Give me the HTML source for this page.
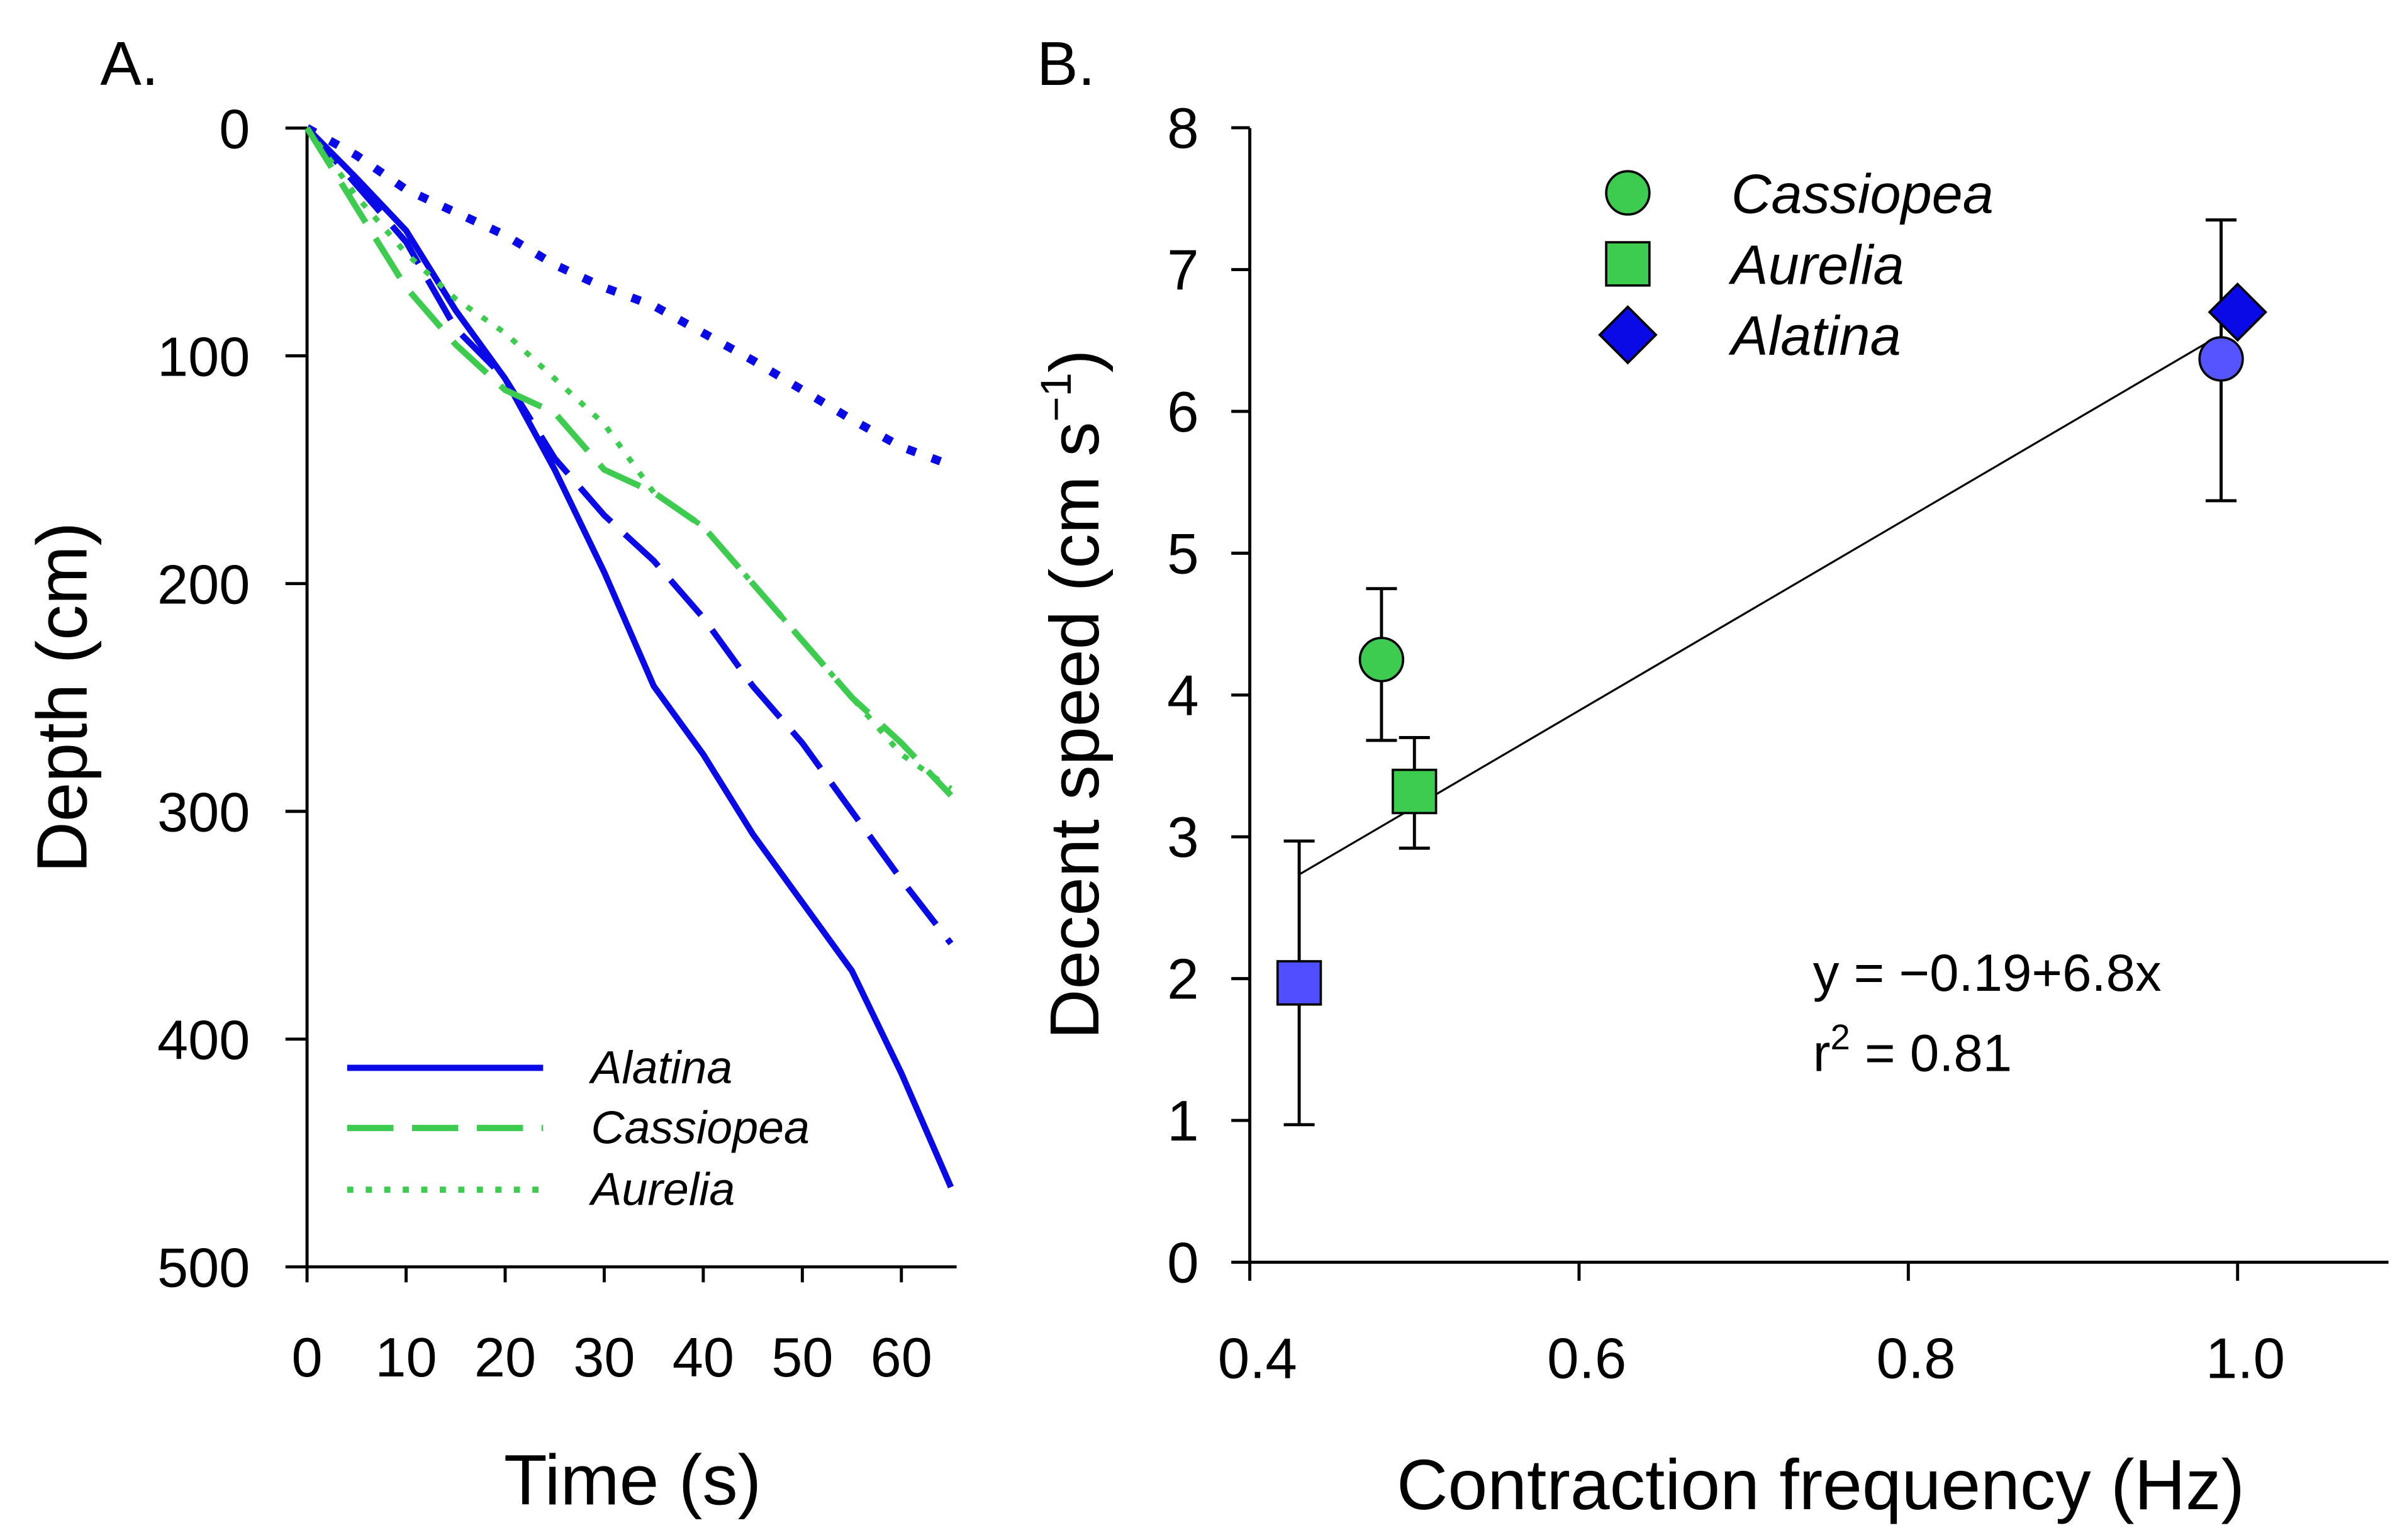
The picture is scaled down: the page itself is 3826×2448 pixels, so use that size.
<!DOCTYPE html>
<html><head><meta charset="utf-8"><style>
html,body{margin:0;padding:0;background:#fff;}
svg{display:block;}
text{font-family:"Liberation Sans",sans-serif;fill:#000;}
</style></head><body>
<svg id="fig" width="3826" height="2448" viewBox="0 0 1560 998" preserveAspectRatio="none">
<g id="pa"></g>
<g id="pb"></g>
</svg>
<script>
// Panel A data
const timeA = [0,5,10,15,20,25,30,35,40,45,50,55,60,65];
const alatinaSolid = [0,22,45,80,110,150,195,245,275,310,340,370,415,465];
const alatinaDashed = [0,25,50,88,110,145,170,190,215,245,270,300,330,358];
const alatinaDotted = [0,12,27,37,47,60,70,78,90,102,115,128,140,148];
const cassiopea = [0,35,70,95,115,125,150,160,175,200,225,250,270,293];
const aurelia = [0,30,55,75,90,110,130,160,175,200,225,250,275,290];
const xTicksA = [0,10,20,30,40,50,60];
const yTicksA = [0,100,200,300,400,500];
// Panel B data
const freqB = [0.43,0.48,0.50,0.99,1.00];
const speedB = [1.97,4.25,3.32,6.37,6.70];
const errLo = [0.97,3.68,2.92,5.37,null];
const errHi = [2.97,4.75,3.70,7.35,null];
const shapesB = ['square','circle','square','circle','diamond'];
const colorsB = ['#4f4fff','#3dcc4f','#3dcc4f','#5555ff','#0a0ae6'];
const xTicksB = [0.4,0.6,0.8,1.0];
const yTicksB = [0,1,2,3,4,5,6,7,8];
const fitInt = -0.19, fitSlope = 6.8;
const fitRange = [0.43,0.985];

const NS='http://www.w3.org/2000/svg';
function mk(parent,tag,attrs,txt){const e=document.createElementNS(NS,tag);for(const k in attrs)e.setAttribute(k,attrs[k]);if(txt!==undefined)e.textContent=txt;parent.appendChild(e);return e;}
const BLUE='#0a0ae6', GREEN='#3dcc4f';

// ---------- Panel A ----------
const pa=document.getElementById('pa');
const ax=t=>199+t*6.42, ay=d=>83+d*1.476;
let e;
e=mk(pa,'line',{x1:199,y1:83,x2:199,y2:821,stroke:'#000','stroke-width':2});


e=mk(pa,'line',{x1:199,y1:821,x2:620,y2:821,stroke:'#000','stroke-width':2});


yTicksA.forEach(v=>{
  mk(pa,'line',{x1:185,y1:ay(v),x2:199,y2:ay(v),stroke:'#000','stroke-width':2});
  e=mk(pa,'text',{x:162,y:ay(v)+13,'text-anchor':'end','font-size':36},String(v));
  
  
});
xTicksA.forEach(v=>{
  mk(pa,'line',{x1:ax(v),y1:821,x2:ax(v),y2:831,stroke:'#000','stroke-width':2});
  e=mk(pa,'text',{x:ax(v),y:892,'text-anchor':'middle','font-size':36},String(v));
  
  
});
e=mk(pa,'text',{x:65,y:55,'font-size':40},'A.');


e=mk(pa,'text',{x:410,y:975,'text-anchor':'middle','font-size':46},'Time (s)');


e=mk(pa,'text',{x:0,y:0,'text-anchor':'middle','font-size':46,transform:'translate(56,452) rotate(-90)'},'Depth (cm)');


function series(vals,stroke,dash,w,name){
  const pts=timeA.map((t,i)=>ax(t)+','+ay(vals[i])).join(' ');
  const p=mk(pa,'polyline',{points:pts,fill:'none',stroke:stroke,'stroke-width':w,'stroke-dasharray':dash});
  
  
}
series(alatinaSolid,BLUE,'none',4,'alatina-solid-line');
series(alatinaDashed,BLUE,'30 12',4,'alatina-dashed-line');
series(alatinaDotted,BLUE,'6 11',5.5,'alatina-dotted-line');
series(cassiopea,GREEN,'30 12',4,'cassiopea-line');
series(aurelia,GREEN,'4 8',3.5,'aurelia-line');
[['Alatina',BLUE,'none',692],['Cassiopea',GREEN,'30 12',731],['Aurelia',GREEN,'4 8',771]].forEach(l=>{
  mk(pa,'line',{x1:225,y1:l[3],x2:352,y2:l[3],stroke:l[1],'stroke-width':4,'stroke-dasharray':l[2]});
  e=mk(pa,'text',{x:383,y:l[3]+10,'font-size':30,'font-style':'italic'},l[0]);
  
  
});

// ---------- Panel B ----------
const pb=document.getElementById('pb');
const bx=f=>810+(f-0.4)*1067, by=s=>818-s*91.9;
e=mk(pb,'line',{x1:810,y1:83,x2:810,y2:818,stroke:'#000','stroke-width':2});


e=mk(pb,'line',{x1:810,y1:818,x2:1548,y2:818,stroke:'#000','stroke-width':2});


yTicksB.forEach(v=>{
  mk(pb,'line',{x1:798,y1:by(v),x2:810,y2:by(v),stroke:'#000','stroke-width':2});
  e=mk(pb,'text',{x:777,y:by(v)+13,'text-anchor':'end','font-size':37},String(v));
  
  
});
xTicksB.forEach(v=>{
  mk(pb,'line',{x1:bx(v),y1:818,x2:bx(v),y2:830,stroke:'#000','stroke-width':2});
  e=mk(pb,'text',{x:bx(v)+5,y:893,'text-anchor':'middle','font-size':37},v.toFixed(1));
  
  
});
e=mk(pb,'text',{x:672,y:55,'font-size':40},'B.');


e=mk(pb,'text',{x:1180,y:978,'text-anchor':'middle','font-size':46},'Contraction frequency (Hz)');


const yt=mk(pb,'text',{x:0,y:0,'text-anchor':'middle','font-size':45,transform:'translate(712,450) rotate(-90)'});


yt.innerHTML='Decent speed (cm s<tspan dy="-18" font-size="28">−1</tspan><tspan dy="18">)</tspan>';
e=mk(pb,'line',{x1:bx(fitRange[0]),y1:by(fitInt+fitSlope*fitRange[0]),x2:bx(fitRange[1]),y2:by(fitInt+fitSlope*fitRange[1]),stroke:'#000','stroke-width':1.3});


function marker(g,shape,cx,cy,col,r){
  let m;
  if(shape==='circle')m=mk(g,'circle',{cx:cx,cy:cy,r:r,fill:col,stroke:'#000','stroke-width':1.5});
  else if(shape==='square')m=mk(g,'rect',{x:cx-r,y:cy-r,width:2*r,height:2*r,fill:col,stroke:'#000','stroke-width':1.5});
  else m=mk(g,'polygon',{points:`${cx},${cy-r*1.3} ${cx+r*1.3},${cy} ${cx},${cy+r*1.3} ${cx-r*1.3},${cy}`,fill:col,stroke:'#000','stroke-width':1.5});
  return m;
}
freqB.forEach((f,i)=>{
  const cx=bx(f);
  if(errLo[i]!==null){
    const eb=mk(pb,'g',{stroke:'#000','stroke-width':2});
    
    
    mk(eb,'line',{x1:cx,y1:by(errLo[i]),x2:cx,y2:by(errHi[i])});
    mk(eb,'line',{x1:cx-10,y1:by(errLo[i]),x2:cx+10,y2:by(errLo[i])});
    mk(eb,'line',{x1:cx-10,y1:by(errHi[i]),x2:cx+10,y2:by(errHi[i])});
  }
  const m=marker(pb,shapesB[i],cx,by(speedB[i]),colorsB[i],14);
  
  
});
[['Cassiopea','circle',GREEN,125],['Aurelia','square',GREEN,171],['Alatina','diamond',BLUE,217]].forEach(l=>{
  marker(pb,l[1],1055,l[3],l[2],14);
  e=mk(pb,'text',{x:1122,y:l[3]+13,'font-size':36,'font-style':'italic'},l[0]);
  
  
});
e=mk(pb,'text',{x:1175,y:642,'font-size':34},'y = −0.19+6.8x');


const r2=mk(pb,'text',{x:1175,y:694,'font-size':34});


r2.innerHTML='r<tspan dy="-14" font-size="23">2</tspan><tspan dy="14"> = 0.81</tspan>';
</script>
</body></html>
